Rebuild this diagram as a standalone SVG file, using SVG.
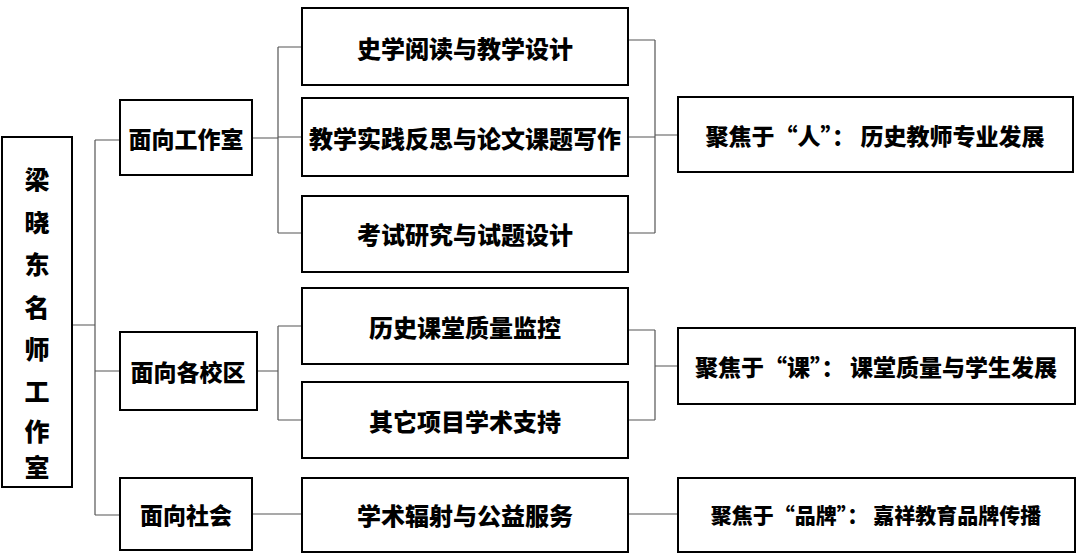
<svg xmlns="http://www.w3.org/2000/svg" width="1080" height="560" viewBox="0 0 1080 560">
<style>
.b{fill:#fff;stroke:#000;stroke-width:2}
.t{font-family:"Noto Sans CJK SC","Noto Sans",sans-serif;font-weight:900;font-size:23px;fill:#000;text-anchor:middle;dominant-baseline:central}
.c{fill:none;stroke:#555;stroke-width:1.2}
</style>
<rect width="1080" height="560" fill="#fff"/>
<g id="connectors">
<path class="c" d="M72 325H95M95 140V515M95 140H120M95 371H120M95 515H120"/>
<path class="c" d="M252 138H278M278 47V233M278 47H302M278 137H302M278 233H302"/>
<path class="c" d="M628 40H655M628 137H655M628 233H655M655 40V233M655 135H678"/>
<path class="c" d="M257 371H278M278 326V420M278 326H302M278 420H302"/>
<path class="c" d="M628 330H655M628 420H655M655 330V420M655 366H678"/>
<path class="c" d="M252 514H302M628 514H678"/>
</g>
<g id="root"><rect class="b" x="2" y="137" width="70" height="350"/>
<g class="t" style="font-size:25px">
<text x="37" y="178">梁</text><text x="37" y="221">晓</text><text x="37" y="263">东</text><text x="37" y="306">名</text><text x="37" y="348">师</text><text x="37" y="390">工</text><text x="37" y="430">作</text><text x="37" y="466">室</text></g></g>
<g id="n1"><rect class="b" x="120" y="100" width="132" height="75"/><text class="t" x="186" y="138">面向工作室</text></g>
<g id="n2"><rect class="b" x="120" y="332" width="137" height="78"/><text class="t" x="188" y="371">面向各校区</text></g>
<g id="n3"><rect class="b" x="120" y="478" width="132" height="72"/><text class="t" x="186" y="514">面向社会</text></g>
<g id="m1"><rect class="b" x="302" y="8" width="326" height="77"/><text class="t" x="465" y="47" style="font-size:24px">史学阅读与教学设计</text></g>
<g id="m2"><rect class="b" x="302" y="98" width="326" height="78"/><text class="t" x="465" y="137" style="font-size:24px">教学实践反思与论文课题写作</text></g>
<g id="m3"><rect class="b" x="302" y="196" width="326" height="76"/><text class="t" x="465" y="233" style="font-size:24px">考试研究与试题设计</text></g>
<g id="m4"><rect class="b" x="302" y="288" width="326" height="76"/><text class="t" x="465" y="326" style="font-size:24px">历史课堂质量监控</text></g>
<g id="m5"><rect class="b" x="302" y="382" width="326" height="76"/><text class="t" x="465" y="420" style="font-size:24px">其它项目学术支持</text></g>
<g id="m6"><rect class="b" x="302" y="478" width="326" height="74"/><text class="t" x="465" y="514" style="font-size:24px">学术辐射与公益服务</text></g>
<g id="r1"><rect class="b" x="678" y="97" width="395" height="75"/><text class="t" x="875" y="135" style="font-size:23px">聚焦于“人”： 历史教师专业发展</text></g>
<g id="r2"><rect class="b" x="678" y="328" width="397" height="76"/><text class="t" x="876" y="366" style="font-size:23px">聚焦于“课”： 课堂质量与学生发展</text></g>
<g id="r3"><rect class="b" x="678" y="478" width="397" height="74"/><text class="t" x="876" y="514" style="font-size:21px">聚焦于“品牌”： 嘉祥教育品牌传播</text></g>
</svg>
